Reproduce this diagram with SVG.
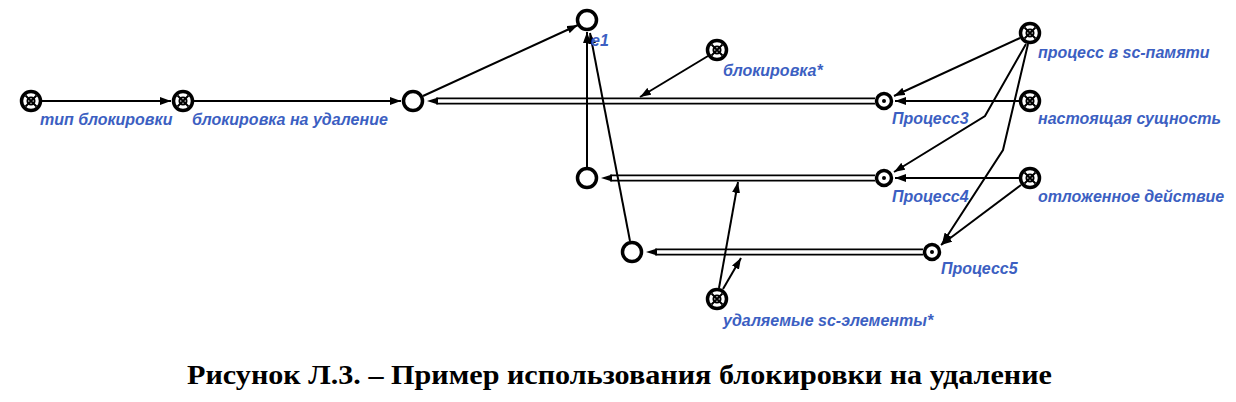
<svg xmlns="http://www.w3.org/2000/svg" width="1236" height="402" viewBox="0 0 1236 402">
<defs>
<style>
.lbl{font-family:"Liberation Sans",Arial,sans-serif;font-size:16px;font-style:italic;font-weight:bold;fill:#3c5fc2}
.cap{font-family:"Liberation Serif","Times New Roman",serif;font-size:28px;font-weight:bold;fill:#000}
.node{fill:#fff;stroke:#000;stroke-width:3.5}
.inner{fill:none;stroke:#000;stroke-width:1.9}
.edge{fill:none;stroke:#000;stroke-width:2}
.dblo{stroke:#000;stroke-width:7;fill:none}
.dbli{stroke:#fff;stroke-width:3.4;fill:none}
</style>
<marker id="ah" viewBox="0 0 11 8" refX="11" refY="4" markerWidth="11" markerHeight="8" markerUnits="userSpaceOnUse" orient="auto">
<path d="M0,0 L11,4 L0,8 Z" fill="#000"/>
</marker>
<g id="cls">
<circle r="9.5" class="node"/>
<circle r="3.6" class="inner"/>
<path d="M-5.5,-5.5 L5.5,5.5 M-5.5,5.5 L5.5,-5.5" class="inner"/>
</g>
</defs>
<rect width="1236" height="402" fill="#fff"/>

<g id="connectors">
<line x1="42" y1="101" x2="171" y2="101" class="edge" marker-end="url(#ah)"/>
<line x1="194" y1="101" x2="401" y2="101" class="edge" marker-end="url(#ah)"/>
<line x1="423" y1="96" x2="578" y2="25" class="edge" marker-end="url(#ah)"/>
<!-- double lines -->
<line x1="436" y1="101" x2="875" y2="101" class="dblo"/>
<line x1="436" y1="101" x2="875" y2="101" class="dbli"/>
<path d="M427,101 L438,97.5 L438,104.5 Z" fill="#000"/>
<line x1="610" y1="178" x2="875" y2="178" class="dblo"/>
<line x1="610" y1="178" x2="875" y2="178" class="dbli"/>
<path d="M601,178 L612,174.5 L612,181.5 Z" fill="#000"/>
<line x1="655" y1="252" x2="923" y2="252" class="dblo"/>
<line x1="655" y1="252" x2="923" y2="252" class="dbli"/>
<path d="M646,252 L657,248.5 L657,255.5 Z" fill="#000"/>
<!-- to e1 -->
<line x1="587" y1="167" x2="587" y2="32" class="edge" marker-end="url(#ah)"/>
<line x1="630" y1="241" x2="590" y2="33" class="edge" marker-end="url(#ah)"/>
<!-- attributes -->
<line x1="708" y1="56" x2="640" y2="97" class="edge" marker-end="url(#ah)"/>
<line x1="1020" y1="38" x2="894" y2="96" class="edge" marker-end="url(#ah)"/>
<line x1="1019" y1="101" x2="895" y2="101" class="edge" marker-end="url(#ah)"/>
<polyline points="1026,44 985,116 894,172" class="edge" marker-end="url(#ah)"/>
<polyline points="1028,44 1003,150 942,244" class="edge" marker-end="url(#ah)"/>
<line x1="1019" y1="178" x2="895" y2="178" class="edge" marker-end="url(#ah)"/>
<line x1="1021" y1="185" x2="941" y2="245" class="edge" marker-end="url(#ah)"/>
<line x1="719" y1="288" x2="738" y2="182" class="edge" marker-end="url(#ah)"/>
<line x1="723" y1="289" x2="741" y2="258" class="edge" marker-end="url(#ah)"/>
</g>

<g id="n-tip-blokirovki"><use href="#cls" x="31" y="101"/><text class="lbl" x="40" y="125">тип блокировки</text></g>
<g id="n-blokirovka-na-udalenie"><use href="#cls" x="183" y="101"/><text class="lbl" x="192" y="125">блокировка на удаление</text></g>
<g id="n-lock"><circle cx="413" cy="101" r="9.5" class="node"/></g>
<g id="n-e1"><circle cx="587" cy="20" r="9.5" class="node"/><text class="lbl" x="591" y="46">e1</text></g>
<g id="n-blokirovka"><use href="#cls" x="717" y="50"/><text class="lbl" x="723" y="76">блокировка*</text></g>
<g id="n-process3"><circle cx="884" cy="101" r="7.5" class="node"/><circle cx="884" cy="101" r="2" fill="#000"/><text class="lbl" x="892" y="124">Процесс3</text></g>
<g id="n-process-sc"><use href="#cls" x="1030" y="33"/><text class="lbl" x="1038" y="58">процесс в sc-памяти</text></g>
<g id="n-nastoyashchaya"><use href="#cls" x="1030" y="101"/><text class="lbl" x="1038" y="124">настоящая сущность</text></g>
<g id="n-e2"><circle cx="587" cy="178" r="9.5" class="node"/></g>
<g id="n-process4"><circle cx="884" cy="178" r="7.5" class="node"/><circle cx="884" cy="178" r="2" fill="#000"/><text class="lbl" x="892" y="202">Процесс4</text></g>
<g id="n-otlozhennoe"><use href="#cls" x="1030" y="178"/><text class="lbl" x="1038" y="202">отложенное действие</text></g>
<g id="n-e3"><circle cx="632" cy="252" r="9.5" class="node"/></g>
<g id="n-process5"><circle cx="932" cy="252" r="7.5" class="node"/><circle cx="932" cy="252" r="2" fill="#000"/><text class="lbl" x="941" y="274">Процесс5</text></g>
<g id="n-udalyaemye"><use href="#cls" x="717" y="299"/><text class="lbl" x="723" y="326">удаляемые sc-элементы*</text></g>

<text class="cap" x="187" y="384" textLength="865" lengthAdjust="spacingAndGlyphs">Рисунок Л.3. – Пример использования блокировки на удаление</text>
</svg>
